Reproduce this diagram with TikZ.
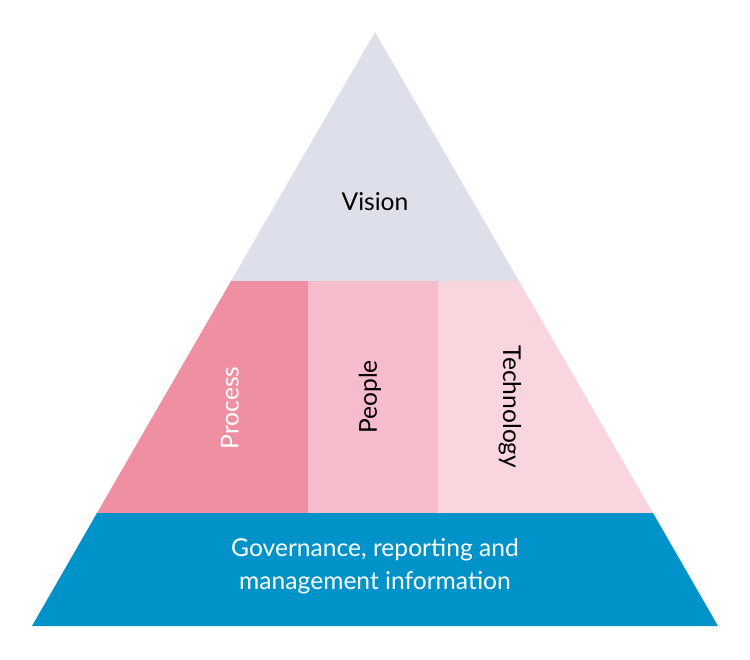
\documentclass[tikz,border=0pt]{standalone}
\usepackage{fontspec}
\setmainfont{Lato}
\definecolor{visiongrey}{HTML}{DDE0EA}
\definecolor{processpink}{HTML}{EE8FA2}
\definecolor{peoplepink}{HTML}{F6BCCB}
\definecolor{techpink}{HTML}{F9D5DE}
\definecolor{govblue}{HTML}{0093C9}
\begin{document}
\begin{tikzpicture}[x=0.02cm,y=-0.02cm]
  \tikzstyle{label}=[font=\fontsize{14}{19}\selectfont,align=center,inner sep=0pt]
  \useasboundingbox (0,0) rectangle (750,659);

  % bands
  \fill[visiongrey] (375,32) -- (519,281) -- (231,281) -- cycle;
  \fill[processpink] (231,281) -- (308,281) -- (308,513) -- (97,513) -- cycle;
  \fill[peoplepink] (308,281) rectangle (438,513);
  \fill[techpink] (438,281) -- (519,281) -- (653,513) -- (438,513) -- cycle;
  \fill[govblue] (97,513) -- (653,513) -- (718,626) -- (32,626) -- cycle;

  % texts
  \node[label] (vision) at (375,202) {Vision};
  \node[label,white,rotate=90] (process) at (230,408) {Process};
  \node[label,rotate=90] (people) at (370,397) {People};
  \node[label,rotate=-90] (tech) at (510,407) {Technology};
  \node[label,white] (gov) at (375,566) {Governance, reporting and\\management information};
\end{tikzpicture}
\end{document}
